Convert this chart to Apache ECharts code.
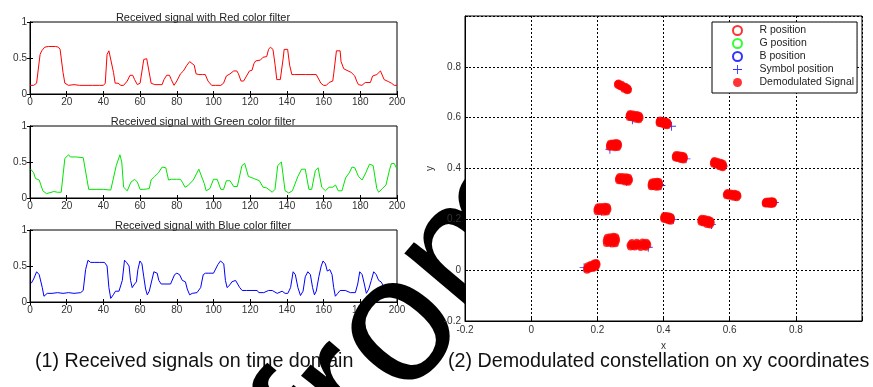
<!DOCTYPE html>
<html>
<head>
<meta charset="utf-8">
<script src="https://cdn.jsdelivr.net/npm/echarts@6/dist/echarts.min.js"></script>
<style>
  html, body { margin: 0; padding: 0; background: #fff; }
  #chart { width: 873px; height: 387px; }
</style>
</head>
<body>
<div id="chart"></div>
<script>
// received signals, [sample, amplitude]
const redSignal = [
  [0,0.12],[2,0.12],[3,0.13],[3.6,0.15],[5.5,0.55],[6.4,0.6],[8,0.65],[10,0.66],[12,0.66],[14,0.66],[15.5,0.65],[16.4,0.62],
  [18,0.3],[19,0.15],[21,0.12],[24,0.13],[27,0.12],[30,0.12],[34,0.12],[38,0.12],[40,0.12],[41,0.15],[42,0.55],[43,0.6],[44,0.6],
  [45.5,0.3],[46.4,0.15],[48,0.15],[49.5,0.12],[51,0.12],[53,0.18],[54.5,0.26],[56,0.26],[57,0.2],[58.5,0.13],[60,0.15],[62,0.48],
  [63.6,0.49],[64.5,0.48],[66,0.15],[68,0.13],[72,0.13],[73,0.2],[74.5,0.26],[76,0.26],[77,0.2],[78.5,0.12],[80,0.18],[82,0.28],
  [83.6,0.32],[85.5,0.4],[87,0.45],[88,0.45],[89.5,0.4],[90.5,0.28],[92,0.27],[94,0.27],[95.5,0.27],[97,0.18],[99,0.12],[101,0.12],
  [104,0.12],[105.5,0.15],[107,0.25],[109,0.28],[111,0.32],[112.7,0.32],[113.6,0.28],[115,0.18],[116.4,0.18],[118,0.25],[119.6,0.32],
  [121,0.33],[122,0.42],[123,0.46],[125.5,0.47],[127,0.51],[129,0.52],[130,0.62],[131,0.65],[132.4,0.62],[133.6,0.4],[134.5,0.2],
  [136.4,0.2],[138,0.5],[138.5,0.62],[140.4,0.62],[141.5,0.4],[142.7,0.27],[144,0.27],[150,0.27],[156,0.27],[157,0.25],[158.5,0.15],
  [160,0.12],[161.5,0.12],[163,0.16],[165,0.18],[165.5,0.28],[167,0.6],[169,0.6],[169.5,0.45],[171,0.35],[172,0.33],[175,0.3],
  [177,0.25],[178,0.18],[179,0.13],[180.9,0.12],[182.7,0.16],[185.5,0.16],[186.7,0.25],[189,0.27],[191,0.32],[192,0.31],[193,0.2],
  [195.5,0.17],[197,0.15],[198.5,0.12],[200,0.12]
];
const greenSignal = [
  [0.4,0.4],[2,0.35],[3,0.27],[5,0.25],[6,0.24],[7,0.1],[9,0.06],[10,0.08],[13,0.09],[15,0.08],[17,0.08],[18,0.1],[19,0.55],
  [21,0.6],[22,0.57],[25,0.57],[29,0.56],[30,0.55],[32,0.12],[33,0.11],[36,0.12],[40,0.12],[44,0.11],[45,0.12],[47,0.45],[49,0.6],
  [50,0.5],[51,0.15],[53,0.1],[55,0.22],[57,0.26],[58.5,0.22],[60,0.12],[62,0.12],[65,0.13],[66,0.25],[68,0.3],[70,0.35],[72,0.43],
  [74,0.42],[75.5,0.25],[77,0.26],[80,0.26],[82,0.26],[83,0.22],[84.5,0.15],[86,0.17],[89,0.25],[92,0.4],[93,0.4],[95,0.2],[96,0.1],
  [98,0.13],[100,0.26],[102,0.26],[104,0.12],[105.5,0.12],[107,0.24],[109,0.24],[111,0.16],[113,0.16],[115.5,0.45],[117,0.48],
  [119,0.3],[122,0.27],[125,0.24],[127,0.15],[129,0.14],[132,0.08],[133.5,0.12],[135,0.45],[137,0.5],[139,0.1],[141,0.07],[143,0.1],
  [144,0.1],[146,0.3],[148,0.4],[150,0.4],[152,0.12],[153.5,0.12],[155.5,0.38],[157,0.42],[159,0.15],[161,0.1],[163,0.15],[165,0.15],
  [166.5,0.18],[168,0.1],[170,0.1],[172,0.28],[174,0.35],[175.5,0.43],[177,0.42],[179,0.3],[181,0.25],[183,0.35],[185,0.47],
  [187,0.45],[189,0.13],[190,0.08],[192,0.13],[194,0.18],[196,0.4],[197,0.48],[198.5,0.48],[200,0.4]
];
const blueSignal = [
  [0.7,0.26],[2,0.32],[3.6,0.42],[5,0.38],[5.8,0.37],[6.7,0.2],[7.6,0.08],[9.4,0.12],[12,0.12],[15,0.13],[18,0.12],[21,0.13],
  [24,0.12],[27.6,0.13],[29,0.16],[30.3,0.45],[31.6,0.58],[33,0.55],[35,0.55],[38,0.55],[40.6,0.55],[42,0.5],[43,0.2],[44,0.05],
  [45.4,0.1],[46.6,0.15],[48.5,0.15],[49.4,0.15],[50.3,0.3],[51.5,0.58],[52.6,0.55],[54,0.5],[54.8,0.3],[55.7,0.2],[57,0.25],
  [58,0.28],[58.8,0.45],[59.9,0.57],[61,0.53],[62,0.35],[63,0.18],[63.9,0.1],[65,0.15],[66,0.17],[67.5,0.42],[68.4,0.42],[69.3,0.4],
  [70.2,0.3],[71.5,0.25],[73,0.25],[76.6,0.25],[77.5,0.27],[78.8,0.38],[80,0.4],[81.5,0.38],[83,0.3],[84.7,0.28],[85.7,0.18],[87,0.1],
  [88.4,0.12],[91,0.13],[93,0.2],[94.4,0.38],[95.6,0.4],[97.5,0.4],[100,0.4],[101,0.42],[102.4,0.52],[103.8,0.57],[105.6,0.53],
  [106.5,0.3],[107.4,0.2],[109,0.24],[110,0.28],[112,0.3],[113,0.28],[114.3,0.2],[115.6,0.16],[118,0.16],[121,0.16],[123.8,0.16],
  [124.7,0.13],[127.4,0.13],[130,0.16],[132,0.16],[134.7,0.12],[137.4,0.15],[139,0.12],[140.5,0.12],[142,0.2],[143.4,0.42],[144.6,0.38],
  [146,0.2],[147.4,0.09],[148.8,0.15],[150,0.35],[151.4,0.42],[152.8,0.38],[154,0.2],[155,0.1],[156,0.15],[157.4,0.35],[158.7,0.5],
  [159.7,0.57],[161,0.53],[162,0.43],[163.4,0.45],[164.6,0.38],[165.5,0.2],[166.4,0.08],[167.7,0.12],[169,0.16],[171.8,0.16],
  [174.6,0.13],[177.3,0.13],[178.6,0.25],[179.7,0.42],[181,0.38],[182.2,0.25],[183.3,0.12],[184.6,0.18],[186,0.3],[187.3,0.42],
  [188.7,0.38],[190,0.3],[191.3,0.28],[192.7,0.22],[194,0.15],[196,0.17],[198,0.22],[200,0.25]
];

// constellation: cluster centre x, y, half spread x, half spread y, tilt
const clusters = [
  [0.277,0.722,0.018,0.008,0.013],[0.312,0.605,0.018,0.011,0.005],[0.400,0.580,0.015,0.010,0.005],
  [0.250,0.492,0.015,0.011,0],[0.449,0.445,0.015,0.010,0.004],[0.566,0.418,0.017,0.011,0.008],
  [0.280,0.358,0.018,0.012,0.003],[0.375,0.338,0.014,0.013,0],[0.607,0.296,0.019,0.009,0.004],
  [0.720,0.266,0.014,0.008,0],[0.215,0.240,0.018,0.013,0],[0.412,0.205,0.013,0.011,0.004],
  [0.528,0.192,0.017,0.012,0.006],[0.242,0.118,0.017,0.017,0],[0.325,0.100,0.029,0.012,0],
  [0.183,0.015,0.017,0.011,-0.008]
];
// hand-placed spread of the dots inside one cluster
const spread = [
  [0,0],[-0.8,0.3],[0.7,-0.2],[-0.4,-0.7],[0.5,0.6],[-0.9,-0.2],[0.9,0.4],[0.2,-0.9],[-0.2,0.8],
  [0.3,0.2],[-0.5,0.1],[0.6,-0.6],[-0.7,0.7],[0.1,-0.4],[0.95,-0.1],[-0.3,-0.3],[0.4,0.9],[-0.6,-0.5],
  [0.8,0.8],[-0.85,-0.75],[0.75,-0.85],[-0.1,0.45]
];
const symbolPos = [
  [0.29,0.715],[0.306,0.592],[0.424,0.566],[0.238,0.476],[0.468,0.438],[0.58,0.41],[0.288,0.35],
  [0.392,0.333],[0.618,0.29],[0.735,0.266],[0.212,0.232],[0.43,0.2],[0.545,0.18],[0.24,0.108],
  [0.354,0.09],[0.16,0.01]
];

const xTicks = [0, 20, 40, 60, 80, 100, 120, 140, 160, 180, 200];
const yTicks = [0, 0.5, 1];
const panelTitles = [
  'Received signal with Red color filter',
  'Received signal with Green color filter',
  'Received signal with Blue color filter'
];
const captions = [
  '(1) Received signals on time domain',
  '(2) Demodulated constellation on xy coordinates'
];

let demodulated = [];
clusters.forEach(c => {
  spread.forEach(s => {
    demodulated.push([c[0] + s[0] * c[2], c[1] + s[1] * c[3] - s[0] * c[4]]);
  });
});

const font = 'Liberation Sans, Arial, sans-serif';
const labelStyle = { color: '#333', fontSize: 10, fontFamily: font };
const plus = 'path://M4.5,0H5.5V4.5H10V5.5H5.5V10H4.5V5.5H0V4.5H4.5Z';

const panelTops = [22, 126, 230];
let grids = [], xAxes = [], yAxes = [], series = [], titles = [];

panelTops.forEach((top, i) => {
  grids.push({ left: 30, top: top, width: 367, height: 72, show: true, borderColor: '#000', borderWidth: 1 });
  titles.push({
    text: panelTitles[i], left: 198, top: top - 15, textAlign: 'center',
    textStyle: { fontSize: 11, fontWeight: 'normal', color: '#222', fontFamily: font }
  });
});

// constellation grid sits above the watermark, like in the picture
grids.push({ left: 465, top: 16, width: 397, height: 305, show: true, z: 200,
  backgroundColor: '#fff', borderColor: '#000', borderWidth: 1 });

for (let i = 0; i < 3; i++) {
  const tickIn = { show: true, inside: true, length: 3, lineStyle: { color: '#000' } };
  xAxes.push({
    type: 'value', gridIndex: i, min: 0, max: 200, interval: 20, position: 'bottom',
    axisLine: { lineStyle: { color: '#000' } }, axisTick: tickIn,
    axisLabel: Object.assign({ margin: 3, formatter: v => xTicks.includes(v) ? String(v) : '' }, labelStyle),
    splitLine: { show: false }
  });
  xAxes.push({
    type: 'value', gridIndex: i, min: 0, max: 200, interval: 20, position: 'top',
    axisLine: { lineStyle: { color: '#000' } }, axisTick: tickIn,
    axisLabel: { show: false }, splitLine: { show: false }
  });
  yAxes.push({
    type: 'value', gridIndex: i, min: 0, max: 1, interval: 0.5, position: 'left',
    axisLine: { show: true, lineStyle: { color: '#000' } }, axisTick: tickIn,
    axisLabel: Object.assign({ margin: 3, formatter: v => yTicks.includes(v) ? String(v) : '' }, labelStyle),
    splitLine: { show: false }
  });
  yAxes.push({
    type: 'value', gridIndex: i, min: 0, max: 1, interval: 0.5, position: 'right',
    axisLine: { show: true, lineStyle: { color: '#000' } }, axisTick: tickIn,
    axisLabel: { show: false }, splitLine: { show: false }
  });
}

const dashed = { show: true, lineStyle: { color: '#000', type: [2, 2], width: 1 } };
const tickIn2 = { show: true, inside: true, length: 3, lineStyle: { color: '#000' } };
const fmt = v => v > 0.9 ? '' : String(+v.toFixed(1));
xAxes.push({
  type: 'value', gridIndex: 3, min: -0.2, max: 1, interval: 0.2, position: 'bottom', z: 201,
  name: 'x', nameLocation: 'middle', nameGap: 20, nameTextStyle: labelStyle,
  axisLine: { onZero: false, lineStyle: { color: '#000' } }, axisTick: tickIn2,
  axisLabel: Object.assign({ margin: 4, formatter: fmt }, labelStyle),
  splitLine: dashed
});
yAxes.push({
  type: 'value', gridIndex: 3, min: -0.2, max: 1, interval: 0.2, position: 'left', z: 201,
  name: 'y', nameLocation: 'middle', nameGap: 30, nameTextStyle: labelStyle,
  axisLine: { show: true, onZero: false, lineStyle: { color: '#000' } }, axisTick: tickIn2,
  axisLabel: Object.assign({ margin: 4, formatter: fmt }, labelStyle),
  splitLine: dashed
});

const signals = [redSignal, greenSignal, blueSignal];
const lineColors = ['#ff0000', '#00e600', '#0000ff'];
signals.forEach((d, i) => {
  series.push({
    type: 'line', xAxisIndex: i * 2, yAxisIndex: i * 2, data: d, showSymbol: false,
    lineStyle: { color: lineColors[i], width: 1 }, silent: true
  });
});

series.push(
  { name: 'R position', type: 'scatter', xAxisIndex: 6, yAxisIndex: 6, data: [], symbol: 'emptyCircle', z: 202,
    itemStyle: { color: '#ff0000', borderColor: '#ff0000' } },
  { name: 'G position', type: 'scatter', xAxisIndex: 6, yAxisIndex: 6, data: [], symbol: 'emptyCircle', z: 202,
    itemStyle: { color: '#00ff00', borderColor: '#00ff00' } },
  { name: 'B position', type: 'scatter', xAxisIndex: 6, yAxisIndex: 6, data: [], symbol: 'emptyCircle', z: 202,
    itemStyle: { color: '#0000ff', borderColor: '#0000ff' } },
  { name: 'Symbol position', type: 'scatter', xAxisIndex: 6, yAxisIndex: 6, data: symbolPos, symbol: plus,
    symbolSize: 9, itemStyle: { color: '#0000ff' }, z: 203 },
  { name: 'Demodulated Signal', type: 'scatter', xAxisIndex: 6, yAxisIndex: 6, data: demodulated, symbol: 'circle',
    symbolSize: 7, itemStyle: { color: '#ff0000' }, z: 204 }
);

const option = {
  backgroundColor: '#fff',
  animation: false,
  title: titles,
  grid: grids,
  xAxis: xAxes,
  yAxis: yAxes,
  legend: {
    orient: 'vertical', left: 712, top: 22, padding: [3, 3, 5, 20], itemGap: 2, z: 210,
    itemWidth: 34, itemHeight: 9, borderColor: '#000', borderWidth: 1, backgroundColor: '#fff',
    selectedMode: false, textStyle: { fontSize: 10.5, color: '#222', fontFamily: font },
    data: ['R position', 'G position', 'B position', 'Symbol position', 'Demodulated Signal']
  },
  graphic: [
    { type: 'text', left: 35, top: 352, z: 1, style: { text: captions[0], font: '19.7px "Liberation Sans Narrow", sans-serif', fill: '#111' } },
    { type: 'text', left: 448, top: 352, z: 1, style: { text: captions[1], font: '19.7px "Liberation Sans Narrow", sans-serif', fill: '#111' } },
    { type: 'text', x: 412, y: 315, rotation: 0.87, z: 100,
      style: { text: 'from', font: '180px "Liberation Sans", Arial, sans-serif', fill: '#000', align: 'center', verticalAlign: 'middle' } }
  ],
  series: series
};

const myChart = echarts.init(document.getElementById('chart'));
myChart.setOption(option);
</script>
</body>
</html>
